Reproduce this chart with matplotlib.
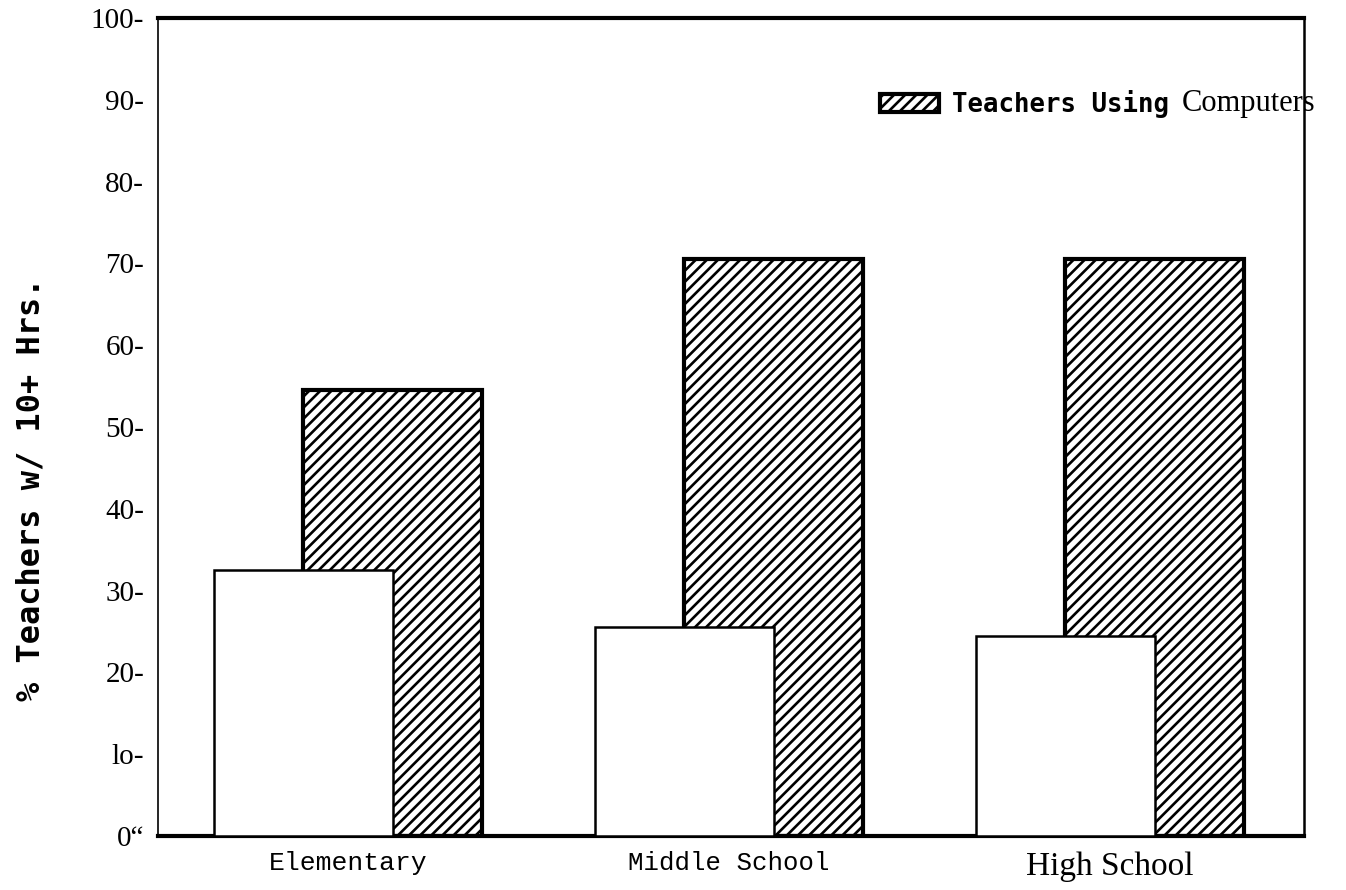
import matplotlib
matplotlib.use("Agg")
import matplotlib.pyplot as plt
import numpy as np

# data
categories = ["Elementary", "Middle School", "High School"]
all_teachers = [32.5, 25.5, 24.5]        # white bars
computer_teachers = [54.5, 70.5, 70.5]   # hatched bars
legend_label = "Teachers Using"
legend_tail = "Computers"
y_ticks = [0, 10, 20, 30, 40, 50, 60, 70, 80, 90, 100]
y_tick_labels = ["0\u201c", "lo-", "20-", "30-", "40-", "50-", "60-", "70-", "80-", "90-", "100-"]
y_label = "% Teachers w/ 10+ Hrs."

plt.rcParams['hatch.linewidth'] = 1.9

fig = plt.figure(figsize=(13.46, 8.90), dpi=100)
ax = fig.add_axes([0.1174, 0.0607, 0.8514, 0.9191])

x = np.arange(len(categories))
width = 0.47
offset = 0.117

# hatched bars behind, white bars in front
hb = ax.bar(x + offset, computer_teachers, width, color='white', edgecolor='black',
            hatch='///', linewidth=3, zorder=2, label=legend_label)
ax.bar(x - offset, all_teachers, width, color='white', edgecolor='black',
       linewidth=1.8, zorder=3)

ax.set_xlim(-0.5, 2.51)
ax.set_ylim(0, 100)

ax.set_yticks(y_ticks)
ax.set_yticklabels(y_tick_labels, family='Liberation Serif', fontsize=21)
ax.set_xticks(x)
ax.set_xticklabels(categories)
xfonts = [('Liberation Mono', 19), ('Liberation Mono', 18.5), ('Liberation Serif', 24)]
for lab, (fam, sz) in zip(ax.get_xticklabels(), xfonts):
    lab.set_family(fam)
    lab.set_fontsize(sz)
ax.tick_params(axis='both', length=0)
ax.tick_params(axis='y', pad=10)
ax.tick_params(axis='x', pad=11)

ax.set_ylabel(y_label, family='DejaVu Sans Mono', fontweight='bold', fontsize=23, va='center')
ax.yaxis.set_label_coords(-0.111, 0.424)

# frame
ax.spines['top'].set_linewidth(3)
ax.spines['bottom'].set_linewidth(3)
ax.spines['left'].set_linewidth(1.2)
ax.spines['right'].set_linewidth(1.8)

leg = ax.legend(handles=[hb], labels=[legend_label], loc='center left',
                bbox_to_anchor=(0.630, 0.895), frameon=False, borderpad=0,
                borderaxespad=0, handlelength=2.3, handleheight=0.7,
                handletextpad=0.5,
                prop={'family': 'DejaVu Sans Mono', 'weight': 'bold', 'size': 18.5})
ax.annotate(legend_tail, xy=(1, 0.5), xycoords=leg.get_texts()[0],
            xytext=(9, 0), textcoords='offset points', ha='left', va='center',
            family='Liberation Serif', fontsize=22, zorder=6)

fig.canvas.draw()
fig.savefig('out.png', dpi=100, facecolor='white')
